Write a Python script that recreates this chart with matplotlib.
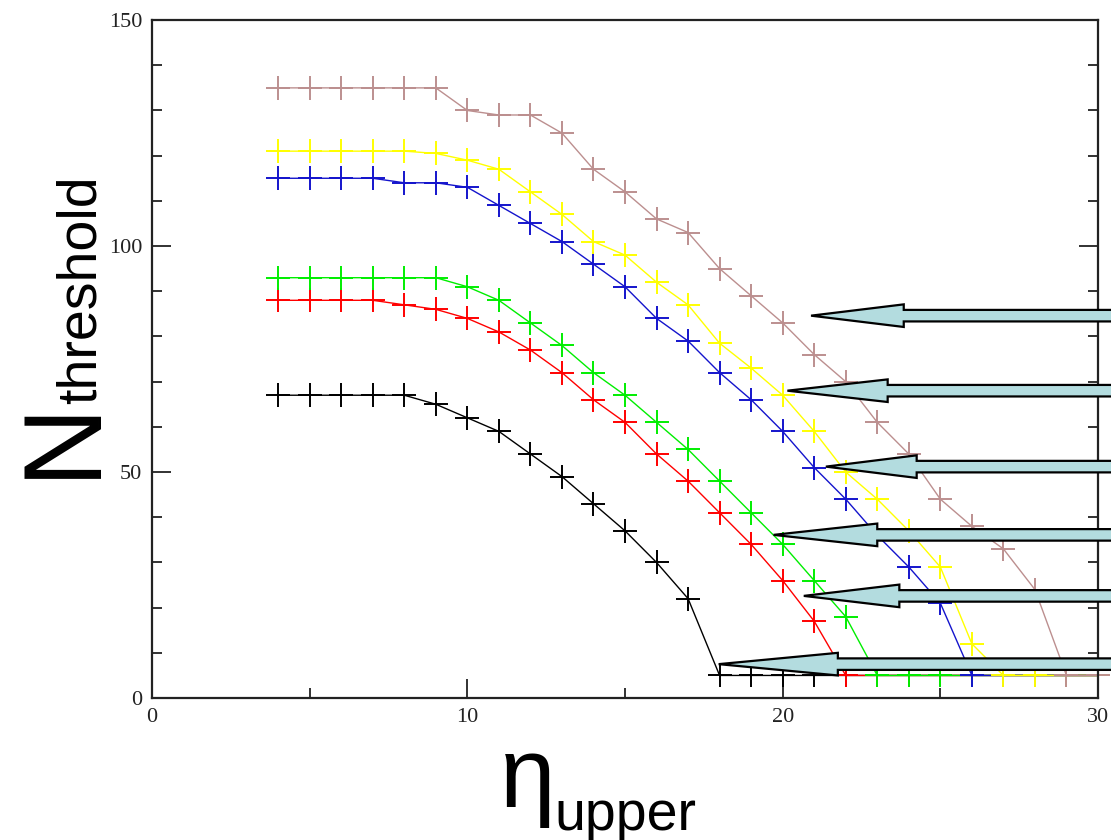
import matplotlib
matplotlib.use('Agg')
import matplotlib.pyplot as plt
from matplotlib.patches import FancyArrow
from matplotlib.ticker import MultipleLocator

# eta_upper values, one point per integer
eta = list(range(4, 31))

# N_threshold curves, lowest to highest
n_black = [67, 67, 67, 67, 67, 65, 62, 59, 54, 49, 43, 37, 30, 22,
           5, 5, 5, 5, 5, 5, 5, 5, 5, 5, 5, 5, 5]
n_red = [88, 88, 88, 88, 87, 86, 84, 81, 77, 72, 66, 61, 54, 48, 41, 34, 26, 17,
         5, 5, 5, 5, 5, 5, 5, 5, 5]
n_green = [93, 93, 93, 93, 93, 93, 91, 88, 83, 78, 72, 67, 61, 55, 48, 41, 34, 26, 18,
           5, 5, 5, 5, 5, 5, 5, 5]
n_blue = [115, 115, 115, 115, 114, 114, 113, 109, 105, 101, 96, 91, 84, 79, 72, 66, 59,
          51, 44, 36, 29, 21, 5, 5, 5, 5, 5]
n_yellow = [121, 121, 121, 121, 121, 120.5, 119, 117, 112, 107, 101, 98, 92, 87, 78.5,
            73, 67, 59, 50, 44, 37, 29, 12, 5, 5, 5, 5]
n_brown = [135, 135, 135, 135, 135, 135, 130, 129, 129, 125, 117, 112, 106, 103, 95,
           89, 83, 76, 70, 61, 54, 44, 38, 33, 24, 5, 5]

series = [(n_black, '#000000'), (n_red, '#ff0000'), (n_green, '#00ee00'),
          (n_blue, '#1414cc'), (n_yellow, '#ffff00'), (n_brown, '#bc8f8f')]

# arrow tips (x, y) and where the head starts
arrow_tips = [(20.9, 84.6), (20.15, 68.0), (21.37, 51.2),
              (19.71, 36.1), (20.67, 22.6), (17.97, 7.5)]
arrow_head_base = [23.84, 23.33, 24.25, 23.0, 23.7, 21.75]

fig = plt.figure(figsize=(11.11, 8.4), dpi=100)
ax = fig.add_axes([0.1368, 0.169, 0.8515, 0.8071])

for vals, col in series:
    ax.plot(eta, vals, color=col, lw=1.0, marker='+', markersize=17,
            markeredgewidth=1.4, clip_on=False)

ax.set_xlim(0, 30)
ax.set_ylim(0, 150)
ax.xaxis.set_major_locator(MultipleLocator(10))
ax.xaxis.set_minor_locator(MultipleLocator(5))
ax.yaxis.set_major_locator(MultipleLocator(50))
ax.yaxis.set_minor_locator(MultipleLocator(10))
ax.tick_params(which='both', direction='in', left=True, right=True,
               bottom=True, top=False, width=1.3, colors='#222222',
               labelsize=16, pad=7)
ax.tick_params(which='major', length=14)
ax.tick_params(which='minor', length=7)
for lab in ax.get_xticklabels() + ax.get_yticklabels():
    lab.set_family('Liberation Serif')
for sp in ax.spines.values():
    sp.set_linewidth(1.6)
    sp.set_color('#222222')

# big arrows coming in from the right edge
for (tx, ty), hb in zip(arrow_tips, arrow_head_base):
    tail = 31.5
    arr = FancyArrow(tail, ty, tx - tail, 0, width=2.55, head_width=5.0,
                     head_length=hb - tx, length_includes_head=True,
                     facecolor='#b3dcdf', edgecolor='black', lw=1.6,
                     transform=ax.transData, clip_on=False, zorder=10)
    ax.add_patch(arr)

# axis titles with big subscripts
fig.text(93 / 1111, 1 - 478 / 840, 'N', rotation=90, rotation_mode='anchor',
         ha='left', va='baseline', fontsize=80, family='Liberation Sans')
fig.text(96 / 1111, 1 - 404 / 840, 'threshold', rotation=90,
         rotation_mode='anchor', ha='left', va='baseline', fontsize=40,
         family='Liberation Sans')
fig.text(500 / 1111, 1 - 807 / 840, 'η', ha='left', va='baseline',
         fontsize=72, family='Liberation Sans')
fig.text(554 / 1111, 1 - 830 / 840, 'upper', ha='left', va='baseline',
         fontsize=40, family='Liberation Sans')

fig.savefig('out.png', dpi=100)
